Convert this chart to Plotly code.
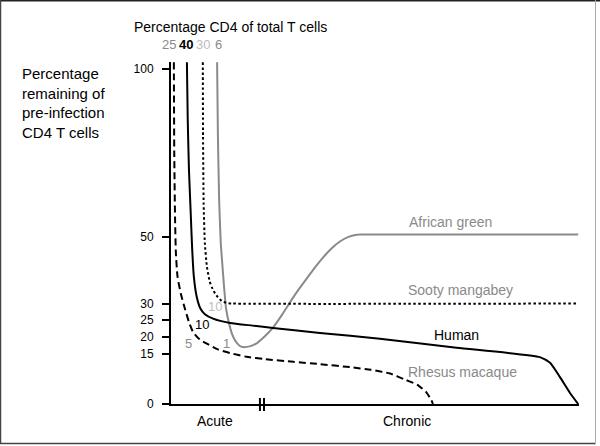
import plotly.graph_objects as go

# ---- data (time in arbitrary units 0-100; y = % remaining of pre-infection CD4 T cells)
human_x = [3.9, 4.1, 4.4, 4.8, 5.2, 5.6, 6.3, 7.2, 8.3, 10.3, 14.5, 20, 25, 36.5, 51.2, 70, 90.4, 92.9, 95.3, 97.8, 99.8]
human_y = [102, 85, 70, 58, 46, 38, 32, 28.5, 26.8, 25.5, 24.2, 23.4, 22.7, 21.2, 19.5, 16.8, 14.0, 12.3, 8.1, 3.3, 0]

rhesus_x = [0.7, 0.8, 1.0, 1.2, 1.6, 2.4, 3.4, 4.4, 5.4, 7, 8.8, 11.5, 14.5, 18.5, 23, 30, 36.5, 43.9, 49, 53.7, 57.5, 60.3, 62.5, 63.8, 64.2]
rhesus_y = [102, 75, 55, 45, 38, 33, 28.5, 24.5, 21.5, 19.3, 18.0, 16.3, 15.2, 14.1, 13.4, 12.6, 11.9, 11.0, 10.2, 9.1, 7.2, 5.8, 3.6, 1.2, 0]

sooty_x = [7.8, 7.85, 8.0, 8.3, 8.8, 9.5, 10.0, 10.8, 11.5, 12.4, 13.5, 15, 99.8]
sooty_y = [102, 80, 60, 48, 41, 36.5, 34.9, 33, 31.9, 30.8, 30.2, 30, 30]

agm_x = [11.3, 11.5, 11.8, 12.2, 12.5, 13.0, 13.5, 14.2, 15.0, 15.8, 16.8, 17.6, 19.3, 21.1, 23, 25.0, 27.2, 29.2,
         31.3, 33.3, 35.3, 37.3, 39.4, 41.4, 43.5, 45.5, 46.3, 99.8]
agm_y = [102, 80, 61, 48, 43, 35, 28.5, 24.2, 20.8, 18.8, 17.4, 17.0, 17.2, 18.2, 20.2, 22.8, 26.6, 30.4,
         34.2, 37.5, 40.8, 43.8, 46.5, 48.5, 49.9, 50.5, 50.6, 50.6]

y_ticks = [0, 15, 20, 25, 30, 50, 100]
phase_labels = ["Acute", "Chronic"]
species_labels = ["African green", "Sooty mangabey", "Human", "Rhesus macaque"]
cd4_start_labels = ["25", "40", "30", "6"]      # rhesus, human, sooty, african green
cd4_end_labels = ["5", "10", "10", "1"]         # rhesus, human, sooty, african green

FONT = "Liberation Sans, Arial, sans-serif"
GRAY = "#8a8a8a"
LIGHT = "#bdbdbd"

fig = go.Figure()
fig.add_trace(go.Scatter(x=agm_x, y=agm_y, mode="lines", line=dict(color=GRAY, width=2, shape="spline", smoothing=0.5)))
fig.add_trace(go.Scatter(x=sooty_x, y=sooty_y, mode="lines", line=dict(color="black", width=2, dash="2.5px,2.5px", shape="spline", smoothing=0.5)))
fig.add_trace(go.Scatter(x=human_x, y=human_y, mode="lines", line=dict(color="black", width=2, shape="spline", smoothing=0.5)))
fig.add_trace(go.Scatter(x=rhesus_x, y=rhesus_y, mode="lines", line=dict(color="black", width=2, dash="7px,4px", shape="spline", smoothing=0.5)))

L, R, T, B = 171, 21, 62, 42
W, H = 600, 446
PW, PH = W - L - R, H - T - B

def px(xp):
    return (xp - L) / PW

def py(yp):
    return (H - B - yp) / PH

ann = []
# left title
ann.append(dict(text="Percentage<br>remaining of<br>pre-infection<br>CD4 T cells", xref="paper", yref="paper",
                x=px(20), y=py(103), xanchor="left", yanchor="middle", align="left", showarrow=False,
                font=dict(size=15, color="black", family=FONT)))
# top title
ann.append(dict(text="Percentage CD4 of total T cells", xref="paper", yref="paper", x=px(132), y=py(27),
                xanchor="left", yanchor="middle", showarrow=False, font=dict(size=14, color="black", family=FONT)))
# starting CD4 % labels
start_cols = [GRAY, "black", LIGHT, GRAY]
start_px = [169, 186, 203, 218]
for t, c, xp in zip(cd4_start_labels, start_cols, start_px):
    txt = f"<b>{t}</b>" if c == "black" else t
    ann.append(dict(text=txt, xref="paper", yref="paper", x=px(xp), y=py(45), xanchor="center", yanchor="middle",
                    showarrow=False, font=dict(size=13, color=c, family=FONT)))
# ending CD4 % labels near curves
end_pos = [(4.4, 18.2), (7.6, 23.6), (10.8, 29.0), (13.7, 18.2)]
end_cols = [GRAY, "black", LIGHT, GRAY]
for t, c, (xx, yy) in zip(cd4_end_labels, end_cols, end_pos):
    ann.append(dict(text=t, x=xx, y=yy, xanchor="center", yanchor="middle", showarrow=False,
                    font=dict(size=13, color=c, family=FONT)))
# species labels
sp_pos = [(57.8, 54.3), (57.6, 34.0), (64.0, 20.6), (57.6, 9.55)]
sp_cols = [GRAY, GRAY, "black", GRAY]
for t, c, (xx, yy) in zip(species_labels, sp_cols, sp_pos):
    ann.append(dict(text=t, x=xx, y=yy, xanchor="left", yanchor="middle", showarrow=False,
                    font=dict(size=14, color=c, family=FONT)))
# phase labels
for t, xx in zip(phase_labels, [10.8, 57.8]):
    ann.append(dict(text=t, x=xx, xref="x", yref="paper", y=py(421), xanchor="center", yanchor="middle",
                    showarrow=False, font=dict(size=14, color="black", family=FONT)))

shapes = []
# axis break marks
for xb in [21.8, 22.8]:
    shapes.append(dict(type="line", xref="x", yref="paper", x0=xb, x1=xb, y0=py(398), y1=py(411),
                       line=dict(color="black", width=2)))
# image frame
shapes.append(dict(type="line", xref="paper", yref="paper", x0=px(0), x1=px(600), y0=py(0.5), y1=py(0.5), line=dict(color="#222", width=2)))
shapes.append(dict(type="line", xref="paper", yref="paper", x0=px(0.5), x1=px(0.5), y0=py(0), y1=py(444), line=dict(color="#444", width=1.5)))
shapes.append(dict(type="line", xref="paper", yref="paper", x0=px(0), x1=px(596), y0=py(443.5), y1=py(443.5), line=dict(color="#444", width=1.5)))
shapes.append(dict(type="line", xref="paper", yref="paper", x0=px(595.5), x1=px(595.5), y0=py(0), y1=py(444), line=dict(color="#aaa", width=1)))

fig.update_layout(
    width=W, height=H, margin=dict(l=L, r=R, t=T, b=B),
    paper_bgcolor="white", plot_bgcolor="white", showlegend=False,
    annotations=ann, shapes=shapes,
    xaxis=dict(range=[0, 100], showline=True, linewidth=2, linecolor="black", showgrid=False, zeroline=False,
               showticklabels=False, ticks=""),
    yaxis=dict(range=[0, 102.1], showline=True, linewidth=2, linecolor="black", showgrid=False, zeroline=False,
               tickvals=y_ticks, ticktext=[str(v) for v in y_ticks], ticks="outside", ticklen=7, tickwidth=1.5,
               tickcolor="black", ticklabelstandoff=6, tickfont=dict(size=12, color="black", family=FONT)),
)

fig.write_html("out.html", config={"displayModeBar": False},
               post_script="document.body.style.margin='0px';document.body.style.overflow='hidden';")
